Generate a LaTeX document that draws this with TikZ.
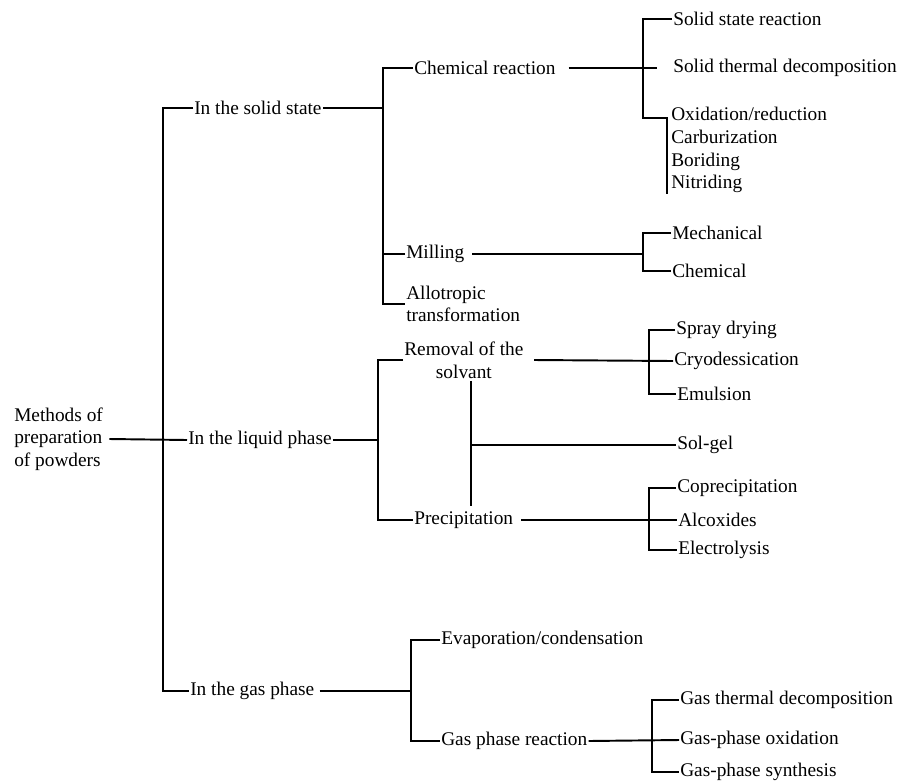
\documentclass[tikz,border=0pt]{standalone}
\usepackage{fontspec}
\setmainfont{Liberation Serif}
\begin{document}
\begin{tikzpicture}[x=0.75pt,y=0.75pt,yscale=-1,xscale=1,
	txt/.style={anchor=west,inner sep=0.75pt,align=left,font=\fontsize{14.5}{17}\selectfont},
	ln/.style={line width=1.45pt}]
			\useasboundingbox (0,0) rectangle (905,782);
			% Text Node
			\draw (13,439) node [txt] (root) {Methods of\\preparation\\of powders};
			% Text Node
			\draw (193,108) node [txt] (sol) {In the solid state};
			% Text Node
			\draw (187,440) node [txt] (liq) {In the liquid phase};
			% Text Node
			\draw (189,691) node [txt] (gas) {In the gas phase};
			% Text Node
			\draw (413,68) node [txt] (chem) {Chemical reaction};
			% Text Node
			\draw (405,254) node [txt] (mill) {Milling};
			% Text Node
			\draw (405,304) node [txt] (allo) {Allotropic\\transformation};
			% Text Node
			\draw (672,19) node [txt] (ssr) {Solid state reaction};
			% Text Node
			\draw (672,68) node [txt] (std) {Solid thermal decomposition};
			% Text Node
			\draw (667,106) node [txt,anchor=north west,inner xsep=3pt] (oxi) {Oxidation/reduction\\Carburization\\Boriding\\Nitriding};
			% Text Node
			\draw (671,233) node [txt] (mech) {Mechanical};
			% Text Node
			\draw (671,271) node [txt] (chemi) {Chemical};
			% Text Node
			\draw (403,360) node [txt,align=center] (rem) {Removal of the\\solvant};
			% Text Node
			\draw (413,520) node [txt] (prec) {Precipitation};
			% Text Node
			\draw (675,330) node [txt] (spray) {Spray drying};
			% Text Node
			\draw (673,361) node [txt] (cryo) {Cryodessication};
			% Text Node
			\draw (676,394) node [txt] (emul) {Emulsion};
			% Text Node
			\draw (676,445) node [txt] (solgel) {Sol-gel};
			% Text Node
			\draw (676,488) node [txt] (copr) {Coprecipitation};
			% Text Node
			\draw (677,520) node [txt] (alco) {Alcoxides};
			% Text Node
			\draw (677,550) node [txt] (elec) {Electrolysis};
			% Text Node
			\draw (440,640) node [txt] (evap) {Evaporation/condensation};
			% Text Node
			\draw (440,741) node [txt] (gpr) {Gas phase reaction};
			% Text Node
			\draw (679,700) node [txt] (gtd) {Gas thermal decomposition};
			% Text Node
			\draw (679,740) node [txt] (gpo) {Gas-phase oxidation};
			% Text Node
			\draw (679,772) node [txt] (gps) {Gas-phase synthesis};
			%Junctions
			\coordinate (k1) at (163,440);
			\coordinate (k2) at (383,108);
			\coordinate (k3) at (643,68);
			\coordinate (k4) at (667,118);
			\coordinate (k5) at (643,254);
			\coordinate (k6) at (378,440);
			\coordinate (k7) at (649,361);
			\coordinate (k8) at (649,520);
			\coordinate (k9) at (411,691);
			\coordinate (k10) at (652,740);
			\coordinate (k11) at (471,445);
			%Straight Lines
			\draw [ln] ([xshift=4pt]root.east) -- (liq.west) ;
			%Straight Lines
			\draw [ln] (sol.west) -| (k1) |- (gas.west) ;
			%Straight Lines
			\draw [ln] (sol.east) -- (k2) ;
			\draw [ln] (chem.west) -| (k2) |- (allo.west) ;
			\draw [ln] (mill.west) -- (mill.west -| k2) ;
			%Straight Lines
			\draw [ln] ([xshift=9pt]chem.east) -- ([xshift=-11pt]std.west) ;
			\draw [ln] (ssr.west) -| (k3) |- (k4) |- (oxi.south west) ;
			%Straight Lines
			\draw [ln] ([xshift=5pt]mill.east) -- (k5) ;
			\draw [ln] (mech.west) -| (k5) |- (chemi.west) ;
			%Straight Lines
			\draw [ln] (liq.east) -- (k6) ;
			\draw [ln] (rem.west) -| (k6) |- (prec.west) ;
			%Straight Lines
			\draw [ln] ([xshift=7pt]rem.east) -- (cryo.west) ;
			\draw [ln] (spray.west) -| (k7) |- (emul.west) ;
			%Straight Lines
			\draw [ln,shorten <=1pt,shorten >=3pt] (rem.south -| k11) -- (prec.north -| k11) ;
			\draw [ln] (k11) -- (solgel.west) ;
			%Straight Lines
			\draw [ln] ([xshift=5pt]prec.east) -- (alco.west) ;
			\draw [ln] (copr.west) -| (k8) |- (elec.west) ;
			%Straight Lines
			\draw [ln] ([xshift=3pt]gas.east) -- (k9) ;
			\draw [ln] (evap.west) -| (k9) |- (gpr.west) ;
			%Straight Lines
			\draw [ln] (gpr.east) -- (gpo.west) ;
			\draw [ln] (gtd.west) -| (k10) |- (gps.west) ;
		\end{tikzpicture}
\end{document}
